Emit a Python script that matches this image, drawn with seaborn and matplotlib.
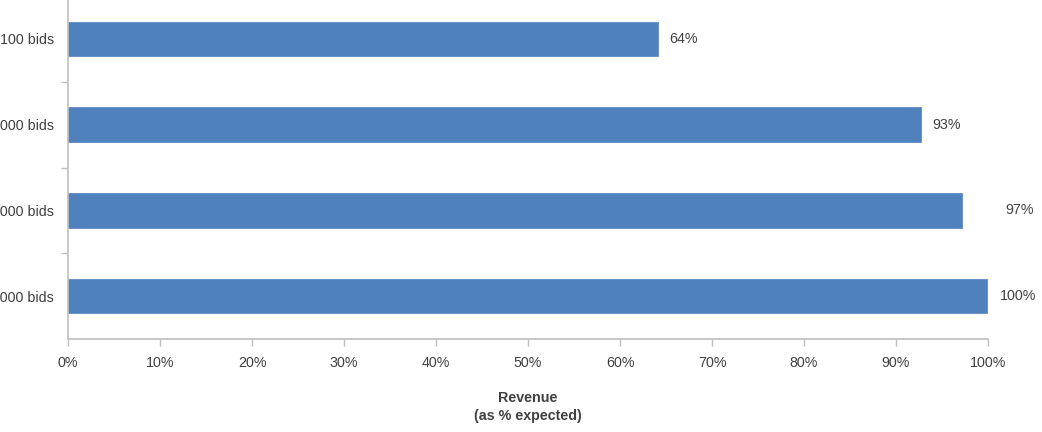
import matplotlib
matplotlib.use("Agg")
import matplotlib.pyplot as plt
import seaborn as sns
import pandas as pd
from matplotlib.ticker import FuncFormatter, FixedLocator

categories = ["100 bids", "1,000 bids", "10,000 bids", "100,000 bids"]
revenue = [64.1, 92.7, 97.2, 99.9]
value_labels = ["64%", "93%", "97%", "100%"]
x_ticks = [0, 10, 20, 30, 40, 50, 60, 70, 80, 90, 100]

sns.set_theme(style="white")
plt.rcParams["font.family"] = ["Liberation Sans", "DejaVu Sans"]

df = pd.DataFrame({"bids": categories, "revenue": revenue})

fig = plt.figure(figsize=(10.42, 4.32), dpi=100)
ax = fig.add_axes([68 / 1042, 1 - 339 / 432, 920 / 1042, (339 + 4) / 432])

sns.barplot(data=df, x="revenue", y="bids", orient="h", color="#4F81BD",
            saturation=1, width=0.4, ax=ax, edgecolor="#4F81BD", linewidth=0.5)

ax.set_xlim(0, 100)
ax.set_ylim(3.5, -0.5)
ax.xaxis.set_major_locator(FixedLocator(x_ticks))
ax.xaxis.set_major_formatter(FuncFormatter(lambda v, p: f"{v:.0f}%"))

text_color = "#404040"
axis_color = "#BFBFBF"
fs = 10.3

for s in ["top", "right"]:
    ax.spines[s].set_visible(False)
for s in ["left", "bottom"]:
    ax.spines[s].set_color(axis_color)
    ax.spines[s].set_linewidth(1.2)

ax.tick_params(axis="x", which="major", direction="out", length=5, width=1,
               color=axis_color, labelsize=fs, labelcolor=text_color, pad=7, bottom=True)
ax.tick_params(axis="y", which="major", length=0, labelsize=fs, labelcolor=text_color, pad=10)
ax.yaxis.set_minor_locator(FixedLocator([0.5, 1.5, 2.5]))
ax.tick_params(axis="y", which="minor", direction="out", length=5, width=1,
               color=axis_color, left=True)

ax.set_ylabel("")
ax.set_xlabel("Revenue\n(as % expected)", fontsize=fs, fontweight="bold",
              color=text_color, labelpad=15, linespacing=1.45)

label_pad = [12, 12, 43, 13]
for i, (v, lab) in enumerate(zip(revenue, value_labels)):
    ax.annotate(lab, xy=(v, i), xytext=(label_pad[i], 0), textcoords="offset pixels",
                ha="left", va="center", fontsize=fs, color=text_color,
                annotation_clip=False)

fig.savefig("out.png", dpi=100)
